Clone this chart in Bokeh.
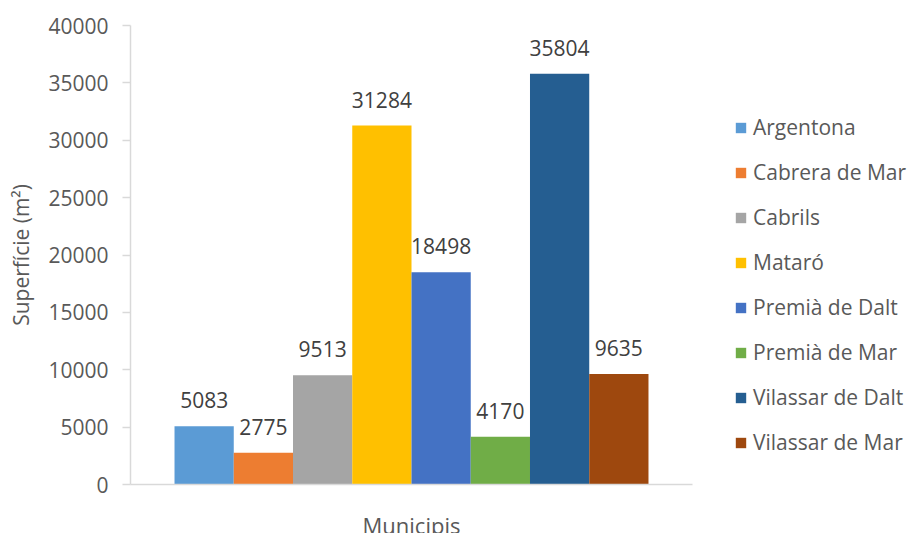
from bokeh.plotting import figure
from bokeh.models import (Range1d, FixedTicker, Legend, LegendItem,
                          ColumnDataSource)
from bokeh.layouts import row, column
from bokeh.core.properties import value
from bokeh.embed import file_html
from bokeh.resources import INLINE

# ---- data ----
municipis = ["Argentona", "Cabrera de Mar", "Cabrils", "Mataró",
             "Premià de Dalt", "Premià de Mar", "Vilassar de Dalt", "Vilassar de Mar"]
superficie = [5083, 2775, 9513, 31284, 18498, 4170, 35804, 9635]
y_ticks = [0, 5000, 10000, 15000, 20000, 25000, 30000, 35000, 40000]
category_label = "Municipis"
y_title = "Superfície (m²)"

colors = ["#5B9BD5", "#ED7D31", "#A5A5A5", "#FFC000",
          "#4472C4", "#70AD47", "#255E91", "#9E480E"]

FONT = "Open Sans"
GREY_AXIS = "#D9D9D9"
TXT = "#595959"

X_LO, X_HI = -1.243, 8.243


def clean(fig):
    fig.outline_line_color = None
    fig.grid.visible = False
    fig.background_fill_color = "white"
    fig.border_fill_color = "white"


# ---- main chart ----
p = figure(width=720, height=505, output_backend="svg", toolbar_location=None,
           x_range=Range1d(X_LO, X_HI), y_range=Range1d(0, 40000),
           min_border_left=130, min_border_right=28,
           min_border_top=25, min_border_bottom=21)
clean(p)

for i, (v, c) in enumerate(zip(superficie, colors)):
    src = ColumnDataSource(dict(x=[i], top=[v], lab=[str(v)]))
    p.vbar(x="x", top="top", width=1.0, source=src, fill_color=c,
           line_color=None)
    p.text(x="x", y="top", text="lab", source=src, text_align="center",
           text_baseline="alphabetic", y_offset=-26,
           text_font=value(FONT), text_font_size="21px", text_color="#404040")

ya = p.yaxis[0]
ya.ticker = FixedTicker(ticks=y_ticks)
ya.axis_line_color = GREY_AXIS
ya.axis_line_width = 1.5
ya.major_tick_line_color = GREY_AXIS
ya.major_tick_line_width = 1.5
ya.major_tick_out = 8
ya.major_tick_in = 0
ya.minor_tick_line_color = None
ya.major_label_text_font = FONT
ya.major_label_text_font_size = "21px"
ya.major_label_text_color = TXT
ya.major_label_standoff = 14
ya.axis_label = y_title
ya.axis_label_text_font = FONT
ya.axis_label_text_font_size = "21px"
ya.axis_label_text_font_style = "normal"
ya.axis_label_text_color = TXT
ya.axis_label_standoff = 10

xa = p.xaxis[0]
xa.ticker = FixedTicker(ticks=[])
xa.axis_line_color = GREY_AXIS
xa.axis_line_width = 1.5
xa.major_tick_line_color = None
xa.minor_tick_line_color = None
xa.major_label_text_font_size = "0px"

# ---- category label strip (below the main chart) ----
p_lab = figure(width=720, height=28, output_backend="svg", toolbar_location=None,
               x_range=p.x_range, y_range=Range1d(0, 28),
               x_axis_location=None, y_axis_location=None,
               min_border_left=130, min_border_right=28,
               min_border_top=0, min_border_bottom=0)
clean(p_lab)
p_lab.text(x=[(X_LO + X_HI) / 2], y=[9], text=[category_label],
           text_align="center", text_baseline="alphabetic",
           text_font=value(FONT), text_font_size="22px", text_color=TXT)

# ---- legend panel (proxy bars lie outside its visible ranges) ----
p_leg = figure(width=187, height=533, output_backend="svg", toolbar_location=None,
               x_range=Range1d(-101, -100), y_range=Range1d(-2, -1),
               x_axis_location=None, y_axis_location=None,
               min_border_left=0, min_border_right=0,
               min_border_top=0, min_border_bottom=0)
clean(p_leg)
items = []
for i, (name, v, c) in enumerate(zip(municipis, superficie, colors)):
    r = p_leg.vbar(x=[i], top=[v], width=1.0, fill_color=c, line_color=None)
    items.append(LegendItem(label=name, renderers=[r]))

legend = Legend(items=items, location=(14, 77), orientation="vertical",
                glyph_width=13, glyph_height=13, label_standoff=6,
                label_height=28, spacing=17, padding=0, margin=0,
                border_line_color=None, background_fill_alpha=0,
                label_text_font=FONT, label_text_font_size="21px",
                label_text_color=TXT)
p_leg.add_layout(legend, "center")

layout = row(column(p, p_lab, spacing=0), p_leg, spacing=0)
open("out.html", "w").write(file_html(layout, INLINE))
